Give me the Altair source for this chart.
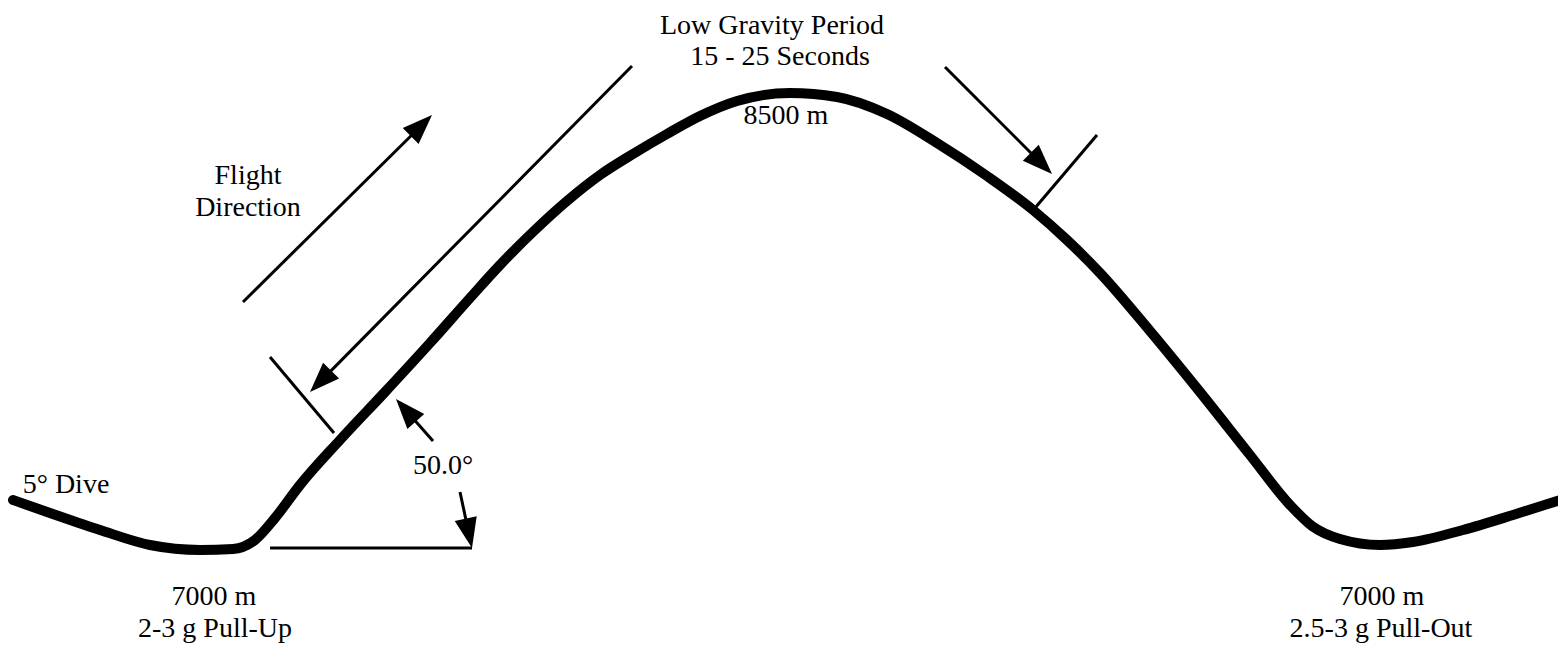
import altair as alt
import pandas as pd
import numpy as np

# Flight path (thick curve) (pixel-like units, y downward)
curve_x = [13, 50, 100, 150, 200, 233, 255, 275, 300, 340, 385, 430, 470, 500, 535, 567,
           600, 633, 667, 700, 737, 790, 837, 887, 937, 987, 1033, 1067, 1100, 1150,
           1200, 1250, 1290, 1312, 1340, 1380, 1413, 1463, 1513, 1560]
curve_y = [500, 513, 530, 545, 550, 549, 540, 518, 485, 440, 392, 343, 298, 265, 230, 201,
           175, 154, 134, 116, 101, 93, 97, 114, 143, 176, 210, 240, 273, 331,
           392, 455, 505, 526, 539, 545, 542, 530, 515, 500]

# Arrows: tail -> tip
arrow_x1 = [243, 632, 945, 433, 460]
arrow_y1 = [302, 66, 67, 441, 492]
arrow_x2 = [432, 310, 1052, 396, 472]
arrow_y2 = [115, 392, 174, 399, 548]

# Plain thin lines
line_x1 = [270, 1097, 270]
line_y1 = [357, 135, 548]
line_x2 = [334, 1035, 472]
line_y2 = [433, 208, 548]

# Labels
label_text = ["Low Gravity Period", "15 - 25 Seconds", "8500 m", "Flight", "Direction",
              "5° Dive", "50.0°", "7000 m", "2-3 g Pull-Up", "7000 m", "2.5-3 g Pull-Out"]
label_x = [772, 780, 786, 248, 248, 66, 443, 214, 215, 1382, 1381]
label_y = [26, 57, 116, 176, 208, 485, 466, 597, 629, 597, 629]

xs = alt.Scale(domain=[8, 1558])
ys = alt.Scale(domain=[8, 646], reverse=True)

curve_df = pd.DataFrame({"x": curve_x, "y": curve_y, "order": range(len(curve_x))})

head_len = 28.0
ax1 = np.array(arrow_x1, float); ay1 = np.array(arrow_y1, float)
ax2 = np.array(arrow_x2, float); ay2 = np.array(arrow_y2, float)
dx = ax2 - ax1; dy = ay2 - ay1
L = np.hypot(dx, dy)
ux, uy = dx / L, dy / L
arrow_df = pd.DataFrame({
    "x": ax1, "y": ay1,
    "x2": ax2 - ux * head_len, "y2": ay2 - uy * head_len,
    "tx": ax2, "ty": ay2,
    "ang": np.mod(np.degrees(np.arctan2(dx, -dy)), 360),
})
line_df = pd.DataFrame({"x": line_x1, "y": line_y1, "x2": line_x2, "y2": line_y2})
label_df = pd.DataFrame({"t": label_text, "x": label_x, "y": label_y})

X = lambda f: alt.X(f, scale=xs, axis=None)
Y = lambda f: alt.Y(f, scale=ys, axis=None)

curve = alt.Chart(curve_df).mark_line(
    color="black", strokeWidth=10, interpolate="monotone", strokeCap="round", strokeJoin="round"
).encode(x=X("x:Q"), y=Y("y:Q"), order="order:Q")

shafts = alt.Chart(arrow_df).mark_rule(color="black", strokeWidth=3).encode(
    x=X("x:Q"), y=Y("y:Q"), x2="x2:Q", y2="y2:Q")

heads = alt.Chart(arrow_df).mark_point(
    shape="M0,0L0.75,2L-0.75,2Z", size=900, filled=True, color="black", opacity=1, strokeWidth=0
).encode(x=X("tx:Q"), y=Y("ty:Q"), angle=alt.Angle("ang:Q", scale=None))

lines = alt.Chart(line_df).mark_rule(color="black", strokeWidth=3).encode(
    x=X("x:Q"), y=Y("y:Q"), x2="x2:Q", y2="y2:Q")

labels = alt.Chart(label_df).mark_text(
    font="Liberation Serif", fontSize=28, color="black", align="center", baseline="middle"
).encode(x=X("x:Q"), y=Y("y:Q"), text="t:N")

chart = alt.layer(curve, shafts, heads, lines, labels).properties(
    width=1550, height=638, padding=0, autosize=alt.AutoSizeParams(type="none"),
    background="white"
).configure_view(stroke=None)

chart.save("out.html", embed_options={"renderer": "svg", "actions": False})
